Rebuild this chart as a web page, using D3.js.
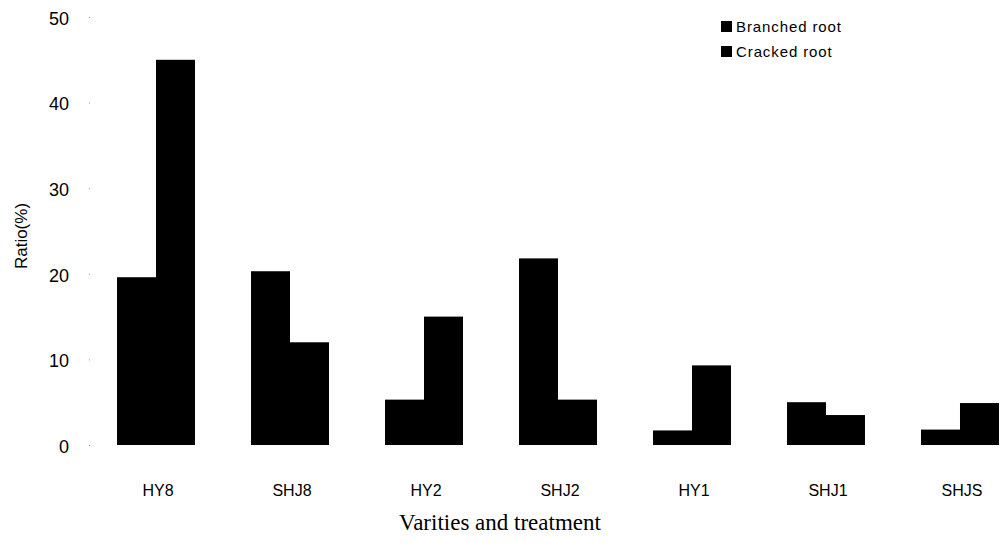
<!DOCTYPE html>
<html><head><meta charset="utf-8">
<script src="https://cdn.jsdelivr.net/npm/d3@7"></script>
<style>body{margin:0;background:#fff}svg{display:block}</style>
</head><body>
<svg id="c" width="1003" height="549"></svg>
<script>
const categories = ["HY8","SHJ8","HY2","SHJ2","HY1","SHJ1","SHUS"];
const categoryLabels = ["HY8","SHJ8","HY2","SHJ2","HY1","SHJ1","SHJS"];
const branchedRoot = [19.6, 20.3, 5.3, 21.8, 1.7, 5.0, 1.8];
const crackedRoot = [45.0, 12.0, 15.0, 5.3, 9.3, 3.5, 4.9];
const seriesNames = ["Branched root","Cracked root"];
const yTicks = [0,10,20,30,40,50];

const svg = d3.select("#c");
const x = d3.scaleBand().domain(categories).range([100, 1016]).paddingInner(0.418).paddingOuter(0.127);
const x1 = d3.scaleBand().domain(seriesNames).range([0, x.bandwidth()]);
const y = d3.scaleLinear().domain([0,50]).range([445,17]);

const data = categories.map((c,i)=>({c, vals:[branchedRoot[i], crackedRoot[i]]}));
const g = svg.append("g");
g.selectAll("g.grp").data(data).join("g").attr("class","grp")
  .attr("transform", d=>`translate(${x(d.c)},0)`)
  .selectAll("rect").data(d=>d.vals.map((v,j)=>({v, s:seriesNames[j]})))
  .join("rect")
  .attr("x", d=>x1(d.s)).attr("width", x1.bandwidth())
  .attr("y", d=>y(d.v)).attr("height", d=>y(0)-y(d.v))
  .attr("fill","#000");

// y axis
const yAxis = d3.axisLeft(y).tickValues(yTicks).tickSize(1).tickPadding(20);
const ya = svg.append("g").attr("transform","translate(90,0)").call(yAxis);
ya.select(".domain").remove();
ya.selectAll(".tick line").attr("stroke","#999");
ya.selectAll("text").attr("font-family","Liberation Sans, Arial, sans-serif").attr("font-size",18).attr("fill","#000").attr("dy","0.4em");

// x axis
const xAxis = d3.axisBottom(x).tickSize(0).tickPadding(38).tickFormat((d,i)=>categoryLabels[i]);
const xa = svg.append("g").attr("transform","translate(0,447)").call(xAxis);
xa.select(".domain").remove();
xa.selectAll("text").attr("font-family","Liberation Sans, Arial, sans-serif").attr("font-size",16).attr("fill","#000").attr("dx",2);

// titles
svg.append("text").attr("transform","translate(27,236) rotate(-90)").attr("text-anchor","middle")
  .attr("font-family","Liberation Sans, Arial, sans-serif").attr("font-size",17).text("Ratio(%)");
svg.append("text").attr("x",500).attr("y",530).attr("text-anchor","middle")
  .attr("font-family","Liberation Serif, Times New Roman, serif").attr("font-size",23).text("Varities and treatment");

// legend
const lg = svg.append("g").attr("transform","translate(720,20)");
seriesNames.forEach((s,i)=>{
  lg.append("rect").attr("x",1).attr("y",i*25+1).attr("width",11).attr("height",11).attr("fill","#000");
  lg.append("text").attr("x",16).attr("y",i*25+12).attr("font-family","Liberation Sans, Arial, sans-serif")
    .attr("font-size",15).attr("letter-spacing",0.9).text(s);
});
</script>
</body></html>
